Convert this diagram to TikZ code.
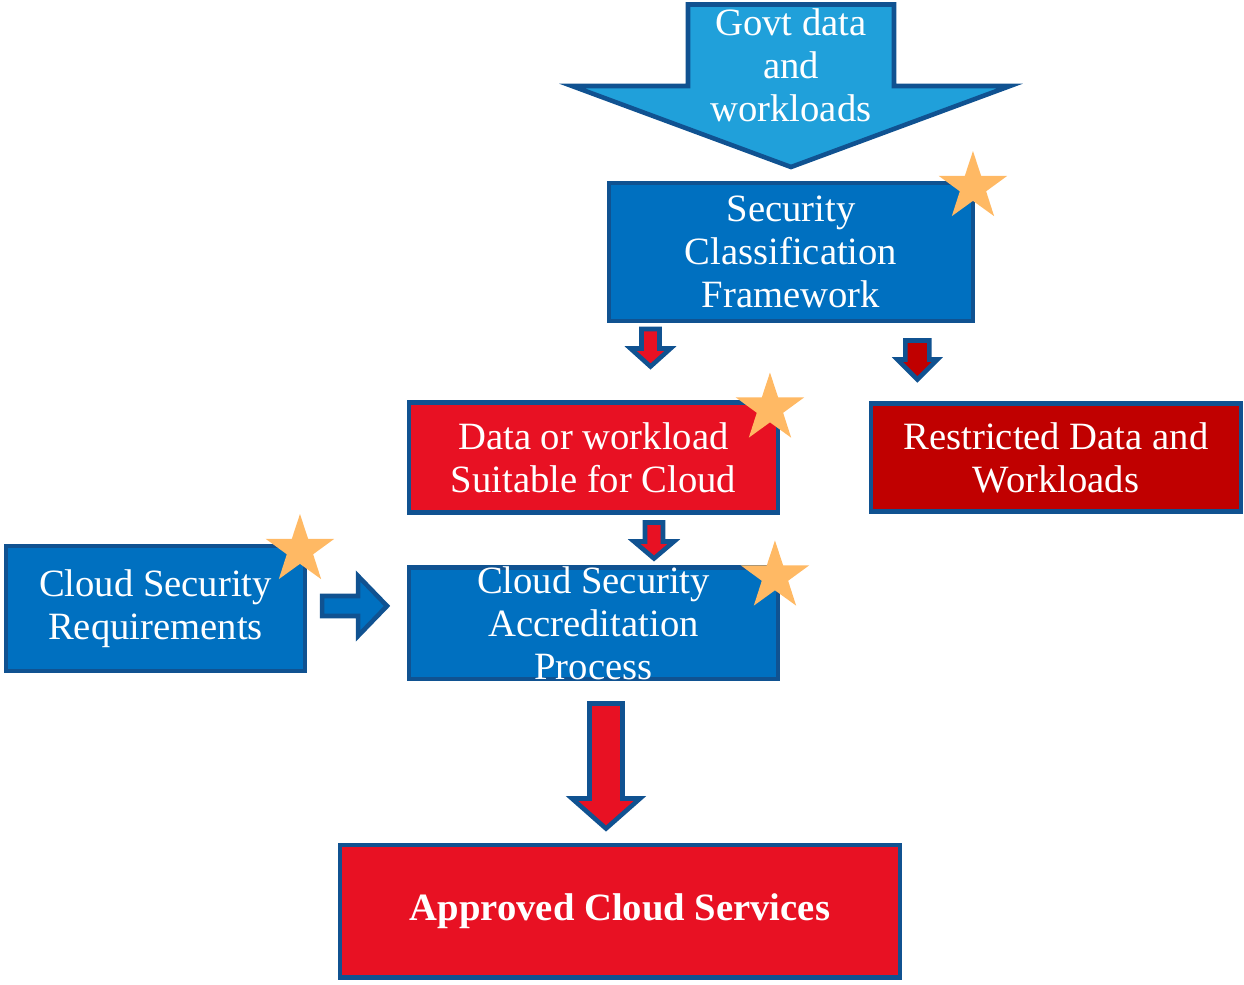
\documentclass[tikz,border=0pt]{standalone}
\usepackage{fontspec}
\setmainfont{Liberation Serif}
\usetikzlibrary{positioning,shapes.geometric}
\definecolor{edgeblue}{RGB}{16,82,145}
\definecolor{skyblue}{RGB}{32,160,218}
\definecolor{boxblue}{RGB}{0,112,192}
\definecolor{boxred}{RGB}{232,17,35}
\definecolor{boxdark}{RGB}{192,0,0}
\definecolor{staryellow}{RGB}{255,185,100}

\begin{document}
\begin{tikzpicture}[x=0.02cm,y=-0.02cm,
				block/.style={draw=edgeblue,line width=2.3pt,rectangle,inner sep=0pt,outer sep=0pt,align=center,
					text=white,font=\fontsize{22}{24.4}\selectfont},
				bluebox/.style={block,fill=boxblue},
				redbox/.style={block,fill=boxred},
				darkbox/.style={block,fill=boxdark},
				boxtext/.style={text=white,align=center,inner sep=0pt,font=\fontsize{22}{24.4}\selectfont},
				spark/.style={shape=star,star points=5,star point ratio=2.6,fill=staryellow,inner sep=0pt,minimum size=1.44cm},
				blk/.style={draw=edgeblue,line width=2.6pt},
				bigblk/.style={draw=edgeblue,line width=2.6pt}]
				\useasboundingbox (0,0) rectangle (1244,984);

				\node (SCF)   [bluebox,minimum width=7.28cm,minimum height=2.76cm] at (791,252)
					{Security\\Classification\\Framework};
				\node (DATA)  [redbox,minimum width=7.38cm,minimum height=2.2cm] at (593.5,457.5)
					{Data or workload\\Suitable for Cloud};
				\node (RESTR) [darkbox,minimum width=7.4cm,minimum height=2.16cm,right=1.86cm of DATA]
					{Restricted Data and\\Workloads};
				\node (ACC)   [bluebox,minimum width=7.38cm,minimum height=2.24cm,below=1.1cm of DATA] {};
				\node (ACCTXT) [boxtext] at (ACC) {Cloud Security\\Accreditation\\Process};
				\node (REQ)   [bluebox,minimum width=5.98cm,minimum height=2.5cm] at (155.5,608.5)
					{Cloud Security\\Requirements};
				\node (APPR)  [redbox,minimum width=11.2cm,minimum height=2.66cm,
					font=\fontsize{22}{24.4}\selectfont\bfseries] at (620,911) {Approved Cloud Services};

				% block arrows
				\draw[bigblk,fill=skyblue] ([shift={(0,-16)}]SCF.north) -- ++(-219,-81) -- ++(116,0) -- ++(0,-81.5)
					-- ++(206,0) -- ++(0,81.5) -- ++(116,0) -- cycle;
				\node (GOVT) [boxtext] at (791,65) {Govt data\\and\\workloads};
				\draw[blk,fill=boxred] ([shift={(57,-36)}]DATA.north) -- ++(-20,-18) -- ++(11,0) -- ++(0,-19.5)
					-- ++(18,0) -- ++(0,19.5) -- ++(11,0) -- cycle;
				\draw[blk,fill=boxdark] ([shift={(-138.5,-24)}]RESTR.north) -- ++(-20,-20) -- ++(8,0) -- ++(0,-19)
					-- ++(24,0) -- ++(0,19) -- ++(8,0) -- cycle;
				\draw[blk,fill=boxred] ([shift={(60.5,-9)}]ACC.north) -- ++(-20,-17) -- ++(11,0) -- ++(0,-19)
					-- ++(18,0) -- ++(0,19) -- ++(11,0) -- cycle;
				\draw[blk,fill=boxblue] ([shift={(-22,-17.5)}]ACC.west) -- ++(-29,-30) -- ++(0,20) -- ++(-36,0)
					-- ++(0,20) -- ++(36,0) -- ++(0,20) -- cycle;
				\draw[bigblk,fill=boxred] ([shift={(-14,-16)}]APPR.north) -- ++(-34,-30) -- ++(17.5,0) -- ++(0,-95)
					-- ++(33,0) -- ++(0,95) -- ++(17.5,0) -- cycle;

				% stars
				\node (S1) [spark] at ([shift={(0,4)}]SCF.north east) {};
				\node (S2) [spark] at ([shift={(-8,6)}]DATA.north east) {};
				\node (S3) [spark] at ([shift={(-3,9)}]ACC.north east) {};
				\node (S4) [spark] at ([shift={(-5,4)}]REQ.north east) {};
			\end{tikzpicture}
\end{document}
